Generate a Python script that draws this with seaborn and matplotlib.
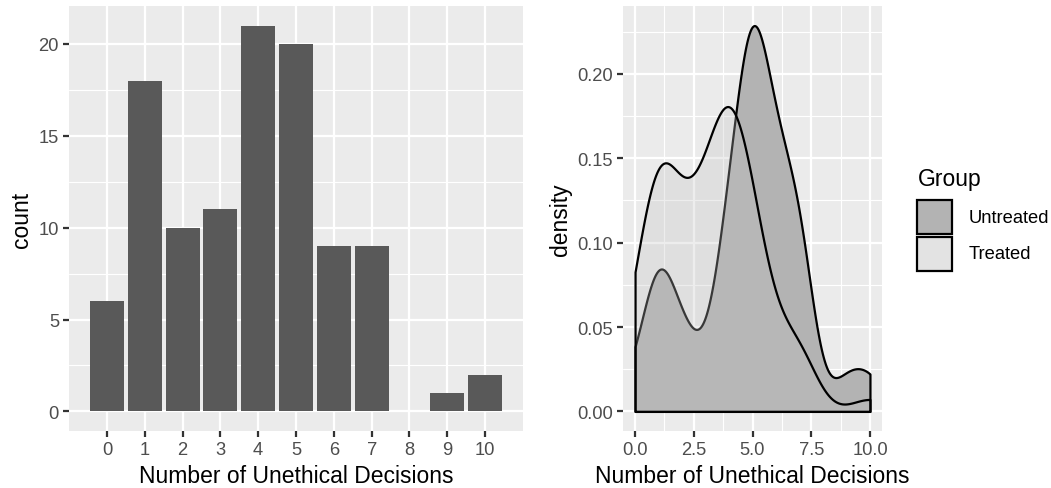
import numpy as np
import pandas as pd
import matplotlib
matplotlib.use("Agg")
import matplotlib.pyplot as plt
from matplotlib.patches import Rectangle
from matplotlib.ticker import FixedLocator, MultipleLocator, FormatStrFormatter
import seaborn as sns

# Number of unethical decisions (0-10) and how many participants made each
decisions = np.arange(11)
untreated_counts = [1, 4, 2, 1, 5, 10, 6, 5, 0, 1, 1]
treated_counts = [5, 14, 8, 10, 16, 10, 3, 4, 0, 0, 1]
groups = ["Untreated", "Treated"]

x_title = "Number of Unethical Decisions"
count_ticks = [0, 5, 10, 15, 20]
density_xticks = [0.0, 2.5, 5.0, 7.5, 10.0]
density_yticks = [0.00, 0.05, 0.10, 0.15, 0.20]

df = pd.DataFrame({
    "decisions": np.concatenate([np.repeat(decisions, untreated_counts),
                                 np.repeat(decisions, treated_counts)]),
    "Group": np.repeat(groups, [sum(untreated_counts), sum(treated_counts)]),
})

W, H = 1051, 489
PT = 72.27 / 25.4 * 0.75          # ggplot linewidth (mm) -> points
GRID_BG = "#EBEBEB"
sns.set_theme(style="darkgrid", rc={
    "axes.facecolor": GRID_BG,
    "grid.color": "white",
    "axes.edgecolor": GRID_BG,
    "figure.facecolor": "white",
})
plt.rcParams["font.family"] = ["Liberation Sans", "DejaVu Sans"]

fig = plt.figure(figsize=(W / 150, H / 150), dpi=150)
ax_bar = fig.add_axes([69.3 / W, 57.3 / H, 453.4 / W, 424.4 / H])
ax_den = fig.add_axes([623.3 / W, 57.3 / H, 258.4 / W, 424.4 / H])


def nrd0_factor(kde):
    """Silverman's rule of thumb (R's bw.nrd0) expressed as a scipy factor."""
    x = kde.dataset[0]
    sd = x.std(ddof=1)
    q75, q25 = np.percentile(x, [75, 25])
    lo = min(sd, (q75 - q25) / 1.34)
    return 0.9 * lo * len(x) ** -0.2 / sd


def style_axes(ax):
    ax.use_sticky_edges = False
    ax.margins(x=0.05, y=0.05)
    for s in ax.spines.values():
        s.set_visible(False)
    ax.set_axisbelow(True)
    ax.grid(which="major", color="white", linewidth=0.5 * PT)
    ax.grid(which="minor", color="white", linewidth=0.25 * PT)
    ax.tick_params(which="major", length=2.75, width=0.5 * PT, color="#333333",
                   labelcolor="#4D4D4D", labelsize=8.8, pad=2.2,
                   bottom=True, left=True)
    ax.tick_params(which="minor", length=0, bottom=False, left=False)
    ax.xaxis.label.set_size(11)
    ax.yaxis.label.set_size(11)
    ax.xaxis.label.set_color("black")
    ax.yaxis.label.set_color("black")
    ax.xaxis.labelpad = 2.75
    ax.yaxis.labelpad = 2.75


# Left: counts of each number of decisions
sns.histplot(data=df, x="decisions", discrete=True, shrink=0.9, color="#595959",
             alpha=1, edgecolor="none", linewidth=0, ax=ax_bar)
ax_bar.xaxis.set_major_locator(FixedLocator(decisions))
ax_bar.yaxis.set_major_locator(FixedLocator(count_ticks))
ax_bar.yaxis.set_minor_locator(MultipleLocator(2.5))
ax_bar.set_xlabel(x_title)
ax_bar.set_ylabel("count")
style_axes(ax_bar)
ax_bar.grid(which="minor", axis="x", visible=False)

# Right: density of decisions by group (Treated layered on top)
fills = {"Untreated": ("#b3b3b3", 1.0), "Treated": ("#c4c4c4", 0.29)}
for g in groups:
    col, a = fills[g]
    sns.kdeplot(data=df[df["Group"] == g], x="decisions", bw_method=nrd0_factor,
                cut=0, gridsize=512, fill=True, color=col, alpha=a,
                edgecolor="black", linewidth=0.5 * PT, ax=ax_den)
ax_den.xaxis.set_major_locator(FixedLocator(density_xticks))
ax_den.xaxis.set_minor_locator(MultipleLocator(1.25))
ax_den.yaxis.set_major_locator(FixedLocator(density_yticks))
ax_den.yaxis.set_minor_locator(MultipleLocator(0.025))
ax_den.xaxis.set_major_formatter(FormatStrFormatter("%.1f"))
ax_den.yaxis.set_major_formatter(FormatStrFormatter("%.2f"))
ax_den.set_xlabel(x_title)
ax_den.set_ylabel("density")
style_axes(ax_den)

# Legend for the fill groups
key_colors = {"Untreated": "#b3b3b3", "Treated": "#e3e3e3"}
fig.text(918 / W, 1 - 186 / H, "Group", fontsize=11, color="black",
         ha="left", va="baseline")
key_x, key_size = 917.3, 34.4
for i, g in enumerate(groups):
    top = 201 + i * 36.6
    fig.add_artist(Rectangle((key_x / W, 1 - (top + key_size) / H), key_size / W,
                             key_size / H, transform=fig.transFigure,
                             facecolor=key_colors[g], edgecolor="black",
                             linewidth=0.5 * PT))
    fig.text(968.3 / W, 1 - (top + key_size / 2) / H, g, fontsize=8.8,
             color="black", ha="left", va="center")

fig.savefig("out.png", dpi=150)
